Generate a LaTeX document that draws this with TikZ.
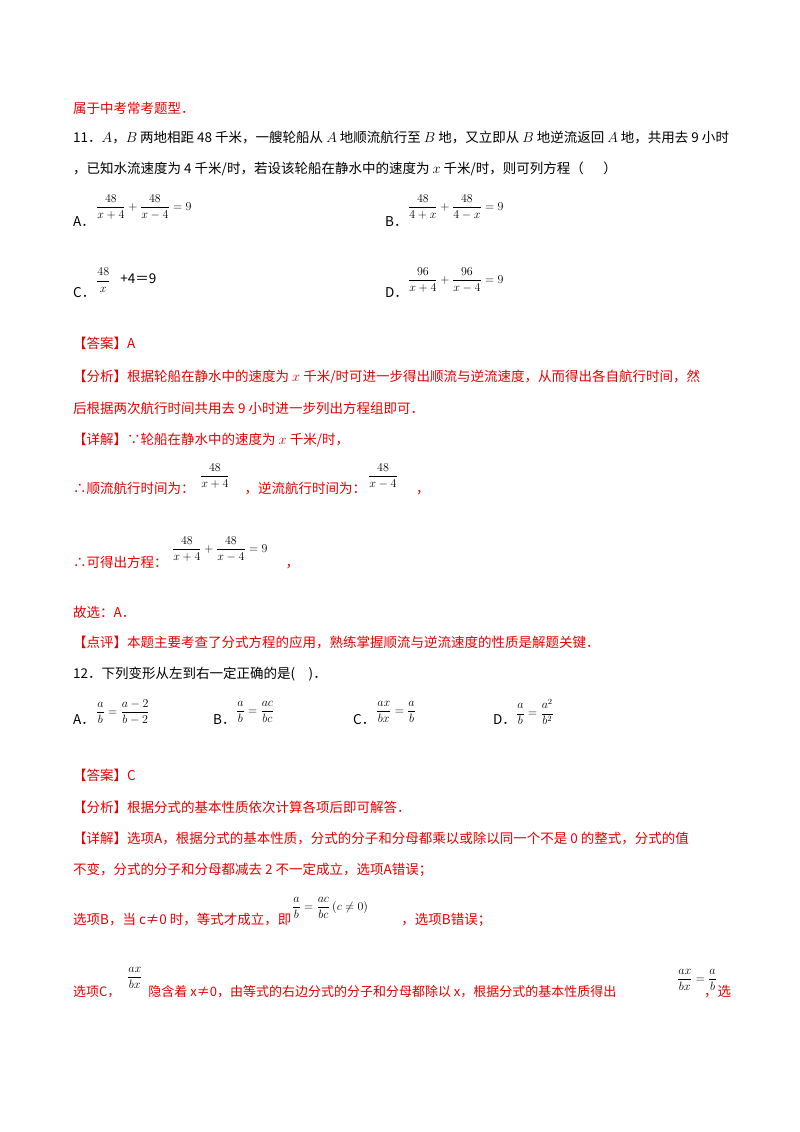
\documentclass[tikz,border=0pt]{standalone}
\usepackage{fontspec}
\setmainfont{Noto Sans CJK SC}
\definecolor{ans}{RGB}{230,0,0}
\begin{document}
\begin{tikzpicture}[x=1pt,y=-1pt,
 t/.style={anchor=west,inner sep=0pt,font=\fontsize{13.5}{16}\selectfont},
 r/.style={t,text=ans},
 m/.style={anchor=west,inner sep=0pt,font=\large}]
\useasboundingbox[fill=white] (0,0) rectangle (800,1132);
\node[r] (l0) at (73,108) {属于中考常考题型．};
\node[t] (l1) at (73,137) {11．$A$，$B$ 两地相距 48 千米，一艘轮船从 $A$ 地顺流航行至 $B$ 地，又立即从 $B$ 地逆流返回 $A$ 地，共用去 9 小时};
\node[t] (l2) at (73,169) {，已知水流速度为 4 千米/时，若设该轮船在静水中的速度为 $x$ 千米/时，则可列方程（\quad\ \ ）};
\node[t] (oa) at (73,222) {A．};
\node[m] (fa) at (96,207) {$\displaystyle\frac{48}{x+4}+\frac{48}{x-4}=9$};
\node[t] (ob) at (385,222) {B．};
\node[m] (fb) at (408,207) {$\displaystyle\frac{48}{4+x}+\frac{48}{4-x}=9$};
\node[t] (oc) at (73,293) {C．};
\node[m] (fc) at (96,280) {$\displaystyle\frac{48}{x}$\hspace{10pt}{\fontsize{13.5}{16}\selectfont +4＝9}};
\node[t] (od) at (385,293) {D．};
\node[m] (fd) at (408,280) {$\displaystyle\frac{96}{x+4}+\frac{96}{x-4}=9$};
\node[r] (a1) at (73,343) {【答案】A};
\node[r] (a2) at (73,377) {【分析】根据轮船在静水中的速度为 $x$ 千米/时可进一步得出顺流与逆流速度，从而得出各自航行时间，然};
\node[r] (a3) at (73,408) {后根据两次航行时间共用去 9 小时进一步列出方程组即可．};
\node[r] (a4) at (73,440) {【详解】∵轮船在静水中的速度为 $x$ 千米/时，};
\node[r] (a5) at (73,488) {∴顺流航行时间为：\hspace{50pt}，逆流航行时间为：\hspace{50pt}，};
\node[m] (f5a) at (200,476) {$\displaystyle\frac{48}{x+4}$};
\node[m] (f5b) at (368,476) {$\displaystyle\frac{48}{x-4}$};
\node[r] (a6) at (73,563) {∴可得出方程：\hspace{118pt}，};
\node[m] (f6) at (172,549) {$\displaystyle\frac{48}{x+4}+\frac{48}{x-4}=9$};
\node[r] (a7) at (73,612) {故选：A．};
\node[r] (a8) at (73,642) {【点评】本题主要考查了分式方程的应用，熟练掌握顺流与逆流速度的性质是解题关键．};
\node[t] (q12) at (73,674) {12．下列变形从左到右一定正确的是(\quad)．};
\node[t] (pa) at (73,720) {A．};
\node[m] (ga) at (96,712) {$\displaystyle\frac{a}{b}=\frac{a-2}{b-2}$};
\node[t] (pb) at (213,720) {B．};
\node[m] (gb) at (236,712) {$\displaystyle\frac{a}{b}=\frac{ac}{bc}$};
\node[t] (pc) at (353,720) {C．};
\node[m] (gc) at (376,712) {$\displaystyle\frac{ax}{bx}=\frac{a}{b}$};
\node[t] (pd) at (493,720) {D．};
\node[m] (gd) at (516,712) {$\displaystyle\frac{a}{b}=\frac{a^2}{b^2}$};
\node[r] (b1) at (73,775) {【答案】C};
\node[r] (b2) at (73,807) {【分析】根据分式的基本性质依次计算各项后即可解答．};
\node[r] (b3) at (73,838) {【详解】选项A，根据分式的基本性质，分式的分子和分母都乘以或除以同一个不是 0 的整式，分式的值};
\node[r] (b4) at (73,870) {不变，分式的分子和分母都减去 2 不一定成立，选项A错误；};
\node[r] (b5) at (73,920) {选项B，当 c≠0 时，等式才成立，即\hspace{110pt}，选项B错误；};
\node[m] (g5) at (292,908) {$\displaystyle\frac{a}{b}=\frac{ac}{bc}\left(c\neq0\right)$};
\node[r,font=\fontsize{13}{16}\selectfont] (b6) at (73,992) {选项C，\hspace{28pt}隐含着 x≠0，由等式的右边分式的分子和分母都除以 x，根据分式的基本性质得出};
\node[r] (b7) at (704,992) {，选};
\node[m] (g6a) at (127,978) {$\displaystyle\frac{ax}{bx}$};
\node[m] (g6b) at (677,980) {$\displaystyle\frac{ax}{bx}=\frac{a}{b}$};
\end{tikzpicture}
\end{document}
